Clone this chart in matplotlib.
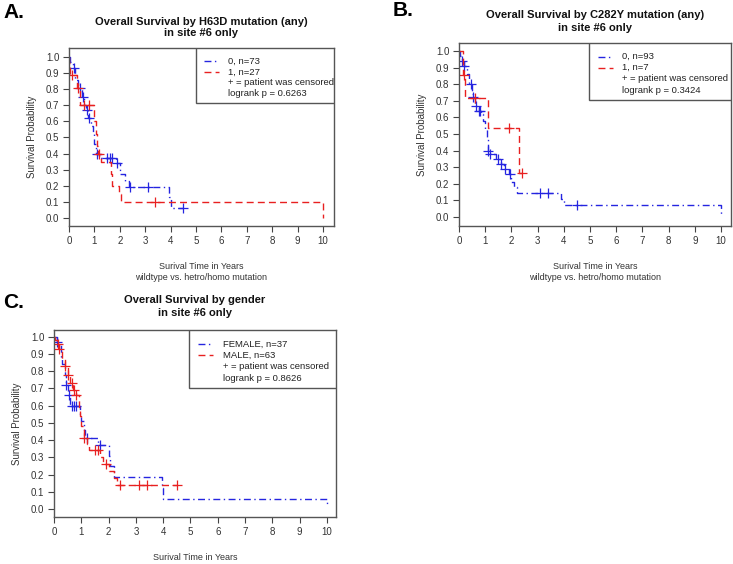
import numpy as np
import matplotlib
matplotlib.use("Agg")
import matplotlib.pyplot as plt
from matplotlib.patches import Rectangle

plt.rcParams['font.family'] = ['Liberation Sans', 'DejaVu Sans']

# ---------------- data ----------------
# Panel A: H63D mutation
a_blue_t = [0.05, 0.15, 0.25, 0.35, 0.5, 0.6, 0.65, 0.75, 0.85, 0.95, 1.0, 1.05, 1.2, 1.85, 2.0, 2.2, 2.35, 3.95, 4.0]
a_blue_s = [0.97, 0.93, 0.86, 0.81, 0.75, 0.70, 0.67, 0.62, 0.57, 0.52, 0.46, 0.40, 0.375, 0.34, 0.27, 0.23, 0.19, 0.13, 0.063]
a_blue_end = 4.5
a_blue_cens = [0.2, 0.45, 0.55, 0.7, 0.8, 1.1, 1.5, 1.6, 1.7, 1.9, 2.4, 3.1, 4.5]
a_red_t = [0.01, 0.05, 0.3, 0.45, 1.0, 1.05, 1.1, 1.15, 1.25, 1.65, 1.7, 1.95, 2.05, 10.0]
a_red_s = [0.963, 0.89, 0.81, 0.70, 0.60, 0.52, 0.45, 0.40, 0.35, 0.27, 0.20, 0.15, 0.10, 0.0]
a_red_end = 10.0
a_red_cens = [0.1, 0.35, 0.6, 0.8, 1.2, 3.4]

# Panel B: C282Y mutation
b_blue_t = [0.05, 0.1, 0.2, 0.3, 0.4, 0.5, 0.55, 0.6, 0.75, 0.85, 0.9, 1.0, 1.05, 1.1, 1.2, 1.4, 1.6, 1.7, 1.9, 2.0, 2.1, 2.2, 3.9, 4.0, 10.0]
b_blue_s = [0.97, 0.94, 0.91, 0.86, 0.80, 0.74, 0.72, 0.67, 0.64, 0.62, 0.58, 0.53, 0.47, 0.40, 0.38, 0.35, 0.32, 0.29, 0.26, 0.21, 0.18, 0.145, 0.11, 0.073, 0.01]
b_blue_end = 10.0
b_blue_cens = [0.1, 0.2, 0.45, 0.55, 0.65, 0.75, 0.8, 1.1, 1.2, 1.5, 1.6, 1.75, 1.95, 3.1, 3.4, 4.5]
b_red_t = [0.17, 0.22, 1.1, 2.3]
b_red_s = [0.857, 0.714, 0.536, 0.268]
b_red_end = 2.4
b_red_cens = [0.2, 0.6, 1.9, 2.4]

# Panel C: gender
c_blue_t = [0.1, 0.15, 0.25, 0.3, 0.4, 0.45, 0.5, 0.6, 0.95, 1.0, 1.1, 1.15, 1.6, 2.0, 2.05, 2.2, 3.95, 4.0, 10.0]
c_blue_s = [0.97, 0.95, 0.88, 0.84, 0.78, 0.72, 0.665, 0.60, 0.55, 0.51, 0.46, 0.415, 0.37, 0.31, 0.25, 0.185, 0.12, 0.06, 0.01]
c_blue_end = 10.0
c_blue_cens = [0.12, 0.45, 0.55, 0.65, 0.75, 0.8, 1.2, 1.7]
c_red_t = [0.05, 0.1, 0.2, 0.25, 0.3, 0.4, 0.5, 0.6, 0.7, 0.8, 0.9, 0.95, 1.0, 1.1, 1.2, 1.3, 1.7, 1.8, 2.0, 2.2, 2.3]
c_red_s = [0.98, 0.96, 0.93, 0.92, 0.87, 0.83, 0.78, 0.73, 0.69, 0.66, 0.59, 0.54, 0.48, 0.41, 0.38, 0.34, 0.30, 0.26, 0.22, 0.18, 0.14]
c_red_end = 4.5
c_red_cens = [0.15, 0.2, 0.42, 0.52, 0.65, 0.75, 0.82, 1.1, 1.5, 1.6, 1.9, 2.4, 3.1, 3.4, 4.5]

titles = ["Overall Survival by H63D mutation (any)\nin site #6 only",
          "Overall Survival by C282Y mutation (any)\nin site #6 only",
          "Overall Survival by gender\nin site #6 only"]
legends = [["0, n=73", "1, n=27"], ["0, n=93", "1, n=7"], ["FEMALE, n=37", "MALE, n=63"]]
pvals = ["logrank p = 0.6263", "logrank p = 0.3424", "logrank p = 0.8626"]
letters = ["A.", "B.", "C."]
xlabels = ["Surival Time in Years\nwildtype vs. hetro/homo mutation",
           "Surival Time in Years\nwildtype vs. hetro/homo mutation",
           "Surival Time in Years"]
xticks = list(range(0, 11))
yticks = [0.0, 0.1, 0.2, 0.3, 0.4, 0.5, 0.6, 0.7, 0.8, 0.9, 1.0]

BLUE = '#2525E0'
RED = '#E82020'
BLUE_LS = (0, (5, 2.5, 1, 2.5))
RED_LS = (0, (5, 3))

W, H = 733, 564
fig = plt.figure(figsize=(W / 100, H / 100), dpi=100)

def frac(x0, y0, x1, y1):
    return [x0 / W, 1 - y1 / H, (x1 - x0) / W, (y1 - y0) / H]

# axes boxes (pixels) and limits
boxes = [(69, 48, 334, 226), (459, 43, 731, 226), (54, 330, 336, 517)]
ylims = [(-0.05, 1.056), (-0.054, 1.048), (-0.047, 1.04)]
xlims = [(0, 10.43), (0, 10.38), (0, 10.33)]

curves = [
    [(a_blue_t, a_blue_s, a_blue_end, a_blue_cens), (a_red_t, a_red_s, a_red_end, a_red_cens)],
    [(b_blue_t, b_blue_s, b_blue_end, b_blue_cens), (b_red_t, b_red_s, b_red_end, b_red_cens)],
    [(c_blue_t, c_blue_s, c_blue_end, c_blue_cens), (c_red_t, c_red_s, c_red_end, c_red_cens)],
]

def surv_at(t, s, x):
    tt = np.array([0.0] + list(t))
    ss = np.array([1.0] + list(s))
    idx = np.searchsorted(tt, x, side='right') - 1
    return ss[idx]

title_y = [(22, 33), (15, 28), (300, 313)]
letter_pos = [(3, 13), (393, 11), (3, 303)]

for i, (box, yl, xl) in enumerate(zip(boxes, ylims, xlims)):
    ax = fig.add_axes(frac(*box))
    for (t, s, end, cens), col, ls in zip(curves[i], [BLUE, RED], [BLUE_LS, RED_LS]):
        xs = [0.0] + list(t) + [end]
        ys = [1.0] + list(s) + [s[-1]]
        ax.step(xs, ys, where='post', color=col, lw=1.0, linestyle=ls)
        cy = surv_at(t, s, np.array(cens))
        ax.plot(cens, cy, linestyle='none', marker='+', color=col, ms=6.5, mew=0.9)
    ax.set_xlim(*xl)
    ax.set_ylim(*yl)
    ax.set_xticks(xticks)
    ax.set_yticks(yticks)
    ax.set_yticklabels([f"{v:.1f}" for v in yticks])
    ax.tick_params(axis='both', labelsize=7, length=4, width=0.8, color='#444444',
                   labelcolor='#333333', pad=3)
    for sp in ax.spines.values():
        sp.set_color('#555555')
        sp.set_linewidth(1.0)
    ax.set_ylabel("Survival Probability", fontsize=7, color='#333333', labelpad=6)
    ax.set_xlabel(xlabels[i], fontsize=6.5, color='#333333', labelpad=12, linespacing=1.3)

    # legend box
    ax.add_patch(Rectangle((0.478, 0.69), 0.522, 0.31, transform=ax.transAxes,
                           facecolor='white', edgecolor='#555555', lw=1.0, zorder=5))
    rows = [0.925, 0.866, 0.805, 0.742]
    ax.plot([0.51, 0.565], [rows[0], rows[0]], transform=ax.transAxes, color=BLUE,
            lw=1.0, linestyle=BLUE_LS, zorder=6)
    ax.plot([0.51, 0.565], [rows[1], rows[1]], transform=ax.transAxes, color=RED,
            lw=1.0, linestyle=RED_LS, zorder=6)
    labels = legends[i] + ["+ = patient was censored", pvals[i]]
    for r, lab in zip(rows, labels):
        ax.text(0.600, r, lab, transform=ax.transAxes, fontsize=6.8, va='center',
                ha='left', color='#222222', zorder=6)

    cx = (box[0] + box[2]) / 2
    fig.text(cx / W, 1 - title_y[i][0] / H, titles[i].split("\n")[0], ha='center', va='center',
             fontsize=8, fontweight='bold', color='#111111')
    fig.text(cx / W, 1 - title_y[i][1] / H, titles[i].split("\n")[1], ha='center', va='center',
             fontsize=8, fontweight='bold', color='#111111')
    fig.text(letter_pos[i][0] / W, 1 - letter_pos[i][1] / H, letters[i], ha='left', va='center',
             fontsize=15, fontweight='bold', color='black')

fig.savefig("out.png", dpi=100)
